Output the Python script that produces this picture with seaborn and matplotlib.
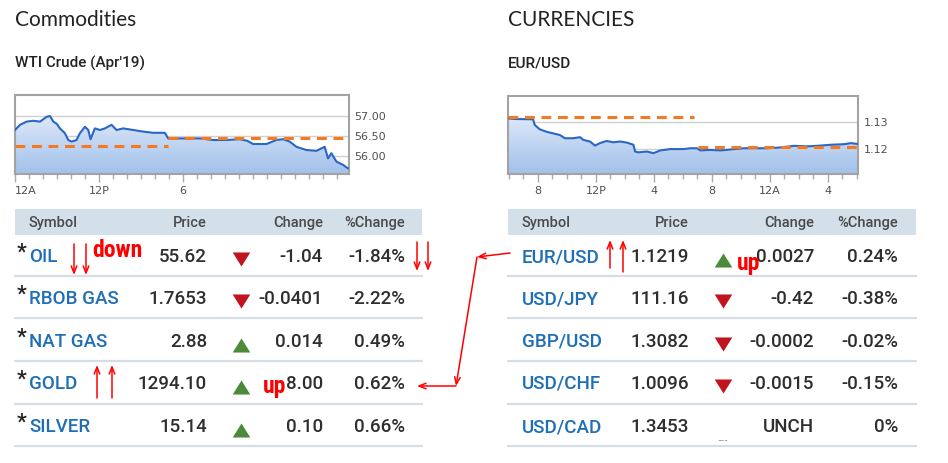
import matplotlib
matplotlib.use("Agg")
import numpy as np
import matplotlib.pyplot as plt
import matplotlib.colors as mcolors
from matplotlib.patches import Rectangle
from matplotlib.path import Path
import seaborn as sns

# --- datos mini grafico WTI (indice de hora, precio) ---
wti_x = [0.0, 0.36, 0.83, 1.31, 1.79, 2.26, 2.5, 2.74, 3.0, 3.21, 3.57, 3.81, 4.05, 4.40,
         4.64, 5.0, 5.24, 5.40, 5.71, 6.07, 6.43, 6.90, 7.26, 7.74, 8.45, 9.17, 9.88, 10.71,
         10.95, 11.79, 13.21, 14.17, 15.12, 16.07, 16.6, 17.02, 17.98, 18.69, 19.17, 19.64,
         20.12, 20.83, 21.55, 22.14, 22.38, 22.62, 22.98, 23.45, 23.81]
wti_y = [56.65, 56.78, 56.86, 56.88, 56.86, 56.98, 57.00, 56.86, 56.80, 56.69, 56.57, 56.40,
         56.36, 56.40, 56.57, 56.73, 56.65, 56.42, 56.69, 56.65, 56.69, 56.78, 56.65, 56.69,
         56.65, 56.61, 56.58, 56.58, 56.44, 56.44, 56.44, 56.40, 56.40, 56.42, 56.38, 56.30,
         56.30, 56.40, 56.42, 56.36, 56.23, 56.15, 56.13, 56.23, 55.94, 56.07, 55.86, 55.78,
         55.69]
wti_prev = [(0.0, 10.95), (56.26, 56.26)]
wti_open = [(10.95, 23.88), (56.45, 56.45)]
wti_ticks = [57.00, 56.50, 56.00]
wti_xlabels = {0: "12A", 6: "12P", 12: "6"}

# --- datos mini grafico EUR/USD ---
eur_x = [-0.07, 0.51, 1.66, 1.78, 2.12, 2.59, 3.05, 3.51, 3.86, 4.43, 4.90, 5.13, 5.59, 5.94,
         6.28, 6.74, 7.21, 7.67, 8.13, 8.59, 8.71, 8.94, 9.52, 9.98, 10.44, 11.13, 12.06,
         12.52, 12.98, 13.21, 13.90, 14.60, 15.06, 15.52, 16.21, 17.14, 17.83, 18.75, 19.68,
         20.60, 21.52, 22.22, 23.14, 23.60, 24.06]
eur_y = [1.1312, 1.1310, 1.1309, 1.1288, 1.1272, 1.1263, 1.1257, 1.1251, 1.1239, 1.1239,
         1.1243, 1.1233, 1.1227, 1.1212, 1.1221, 1.1229, 1.1224, 1.1227, 1.1223, 1.1215,
         1.1190, 1.1187, 1.1190, 1.1184, 1.1194, 1.1199, 1.1199, 1.1202, 1.1202, 1.1194,
         1.1196, 1.1194, 1.1196, 1.1199, 1.1202, 1.1202, 1.1202, 1.1205, 1.1211, 1.1209,
         1.1212, 1.1215, 1.1217, 1.1221, 1.1218]
eur_prev = [(-0.07, 12.75), (1.1318, 1.1318)]
eur_open = [(13.03, 24.1), (1.1205, 1.1205)]
eur_ticks = [1.13, 1.12]
eur_xlabels = {2: "8", 6: "12P", 10: "4", 14: "8", 18: "12A", 22: "4"}

# --- tablas ---
com_symbols = ["OIL", "RBOB GAS", "NAT GAS", "GOLD", "SILVER"]
com_prices = ["55.62", "1.7653", "2.88", "1294.10", "15.14"]
com_changes = ["-1.04", "-0.0401", "0.014", "8.00", "0.10"]
com_pcts = ["-1.84%", "-2.22%", "0.49%", "0.62%", "0.66%"]
com_dirs = ["down", "down", "up", "up", "up"]

fx_symbols = ["EUR/USD", "USD/JPY", "GBP/USD", "USD/CHF", "USD/CAD"]
fx_prices = ["1.1219", "111.16", "1.3082", "1.0096", "1.3453"]
fx_changes = ["0.0027", "-0.42", "-0.0002", "-0.0015", "UNCH"]
fx_pcts = ["0.24%", "-0.38%", "-0.02%", "-0.15%", "0%"]
fx_dirs = ["up", "down", "down", "down", "none"]

W, H = 948, 463
sns.set_style("white")
plt.rcParams["font.family"] = ["Lato", "DejaVu Sans"]
TAB = ["Roboto", "DejaVu Sans"]

fig = plt.figure(figsize=(W / 100, H / 100), dpi=100)
fig.patch.set_facecolor("white")

ov = fig.add_axes([0, 0, 1, 1])
ov.set_xlim(0, W)
ov.set_ylim(H, 0)
ov.axis("off")

BLUE_LINE = "#2a66c6"
ORANGE = "#f57a1f"
grad_cmap = mcolors.LinearSegmentedColormap.from_list("g", ["#f2f6fd", "#a2c1eb"])


def mini_chart(px, x, y, prev, opn, ylim, yticks, fmt, xlim, xlabels):
    l, t, r, b = px
    ax = fig.add_axes([l / W, 1 - b / H, (r - l) / W, (b - t) / H])
    ax.set_facecolor("white")
    for v in yticks:
        ax.axhline(v, color="#cfcfcf", lw=1, zorder=0.5)
    poly = ax.fill_between(x, y, ylim[0], color="none", lw=0)
    grad = np.linspace(0, 1, 256).reshape(-1, 1)
    im = ax.imshow(grad, cmap=grad_cmap, aspect="auto",
                   extent=[xlim[0], xlim[1], ylim[0], ylim[1]], zorder=1)
    im.set_clip_path(poly.get_paths()[0], transform=ax.transData)
    sns.lineplot(x=x, y=y, ax=ax, color=BLUE_LINE, lw=1.5, sort=False, zorder=3)
    for seg in (prev, opn):
        sns.lineplot(x=list(seg[0]), y=list(seg[1]), ax=ax, color=ORANGE, lw=2.2,
                     linestyle=(0, (3.2, 2.2)), zorder=4)
    ax.set_xlim(*xlim)
    ax.set_ylim(*ylim)
    ax.yaxis.tick_right()
    ax.set_yticks(yticks)
    ax.set_yticklabels([fmt.format(v) for v in yticks])
    ax.tick_params(axis="y", length=0, pad=4, labelsize=8, labelcolor="#505050")
    ax.set_xticks(list(xlabels.keys()))
    ax.set_xticklabels(list(xlabels.values()), fontfamily="DejaVu Sans")
    ax.set_xticks(range(int(np.ceil(xlim[0])), int(xlim[1]) + 1), minor=True)
    ax.tick_params(axis="x", which="major", length=6, width=1, color="#aaaaaa",
                   pad=3, labelsize=8, labelcolor="#505050", bottom=True)
    ax.tick_params(axis="x", which="minor", length=3.5, width=1, color="#aaaaaa", bottom=True)
    for lab in ax.get_yticklabels():
        lab.set_fontfamily("DejaVu Sans")
    for s in ax.spines.values():
        s.set_color("#a3a3a3")
        s.set_linewidth(1.5)
    ax.set_xlabel("")
    ax.set_ylabel("")
    return ax


ax1 = mini_chart((15, 95, 349, 174), wti_x, wti_y, wti_prev, wti_open,
                 (55.55, 57.525), wti_ticks, "{:.2f}", (0, 23.88), wti_xlabels)
ax1.get_xticklabels()[0].set_horizontalalignment("left")
ax2 = mini_chart((508, 96, 858, 174), eur_x, eur_y, eur_prev, eur_open,
                 (1.1107, 1.1395), eur_ticks, "{:.2f}", (-0.07, 24.1), eur_xlabels)

# titulos
for x0, t1, t2 in [(15, "Commodities", "WTI Crude (Apr'19)"), (508, "CURRENCIES", "EUR/USD")]:
    ov.text(x0, 26, t1, fontsize=15, color="#222222", va="baseline", ha="left")
    ov.text(x0, 68, t2, fontsize=11, color="#222222", va="baseline", ha="left",
            fontweight=500, family=TAB)

row_c = [256, 298, 341, 383, 426]
row_sep = [276, 318, 361, 404, 446]
tri_down = Path([(-1, 0.8), (1, 0.8), (0, -0.8), (-1, 0.8)])
tri_up = Path([(-1, -0.8), (1, -0.8), (0, 0.8), (-1, -0.8)])


def draw_table(x0, x1, cols, symbols, prices, changes, pcts, dirs, star):
    sym_x, price_r, tri_x, chg_r, pct_r = cols
    ov.add_patch(Rectangle((x0, 209), x1 - x0, 26, color="#d3dfe9", lw=0))
    hk = dict(fontsize=10.5, color="#4a4a4a", fontweight=500, va="baseline", family=TAB)
    ov.text(sym_x, 227, "Symbol", ha="left", **hk)
    ov.text(price_r, 227, "Price", ha="right", **hk)
    ov.text(chg_r, 227, "Change", ha="right", **hk)
    ov.text(pct_r, 227, "%Change", ha="right", **hk)
    for yc in row_sep:
        ov.plot([x0, x1], [yc, yc], color="#d5dde5", lw=1.6)
    k = dict(fontsize=13.5, color="#2e2e2e", va="baseline", fontweight=500, family=TAB)
    ups_x, ups_y, dn_x, dn_y = [], [], [], []
    for i, yc in enumerate(row_c):
        base = yc + 6
        if star:
            ov.text(x0 + 2, base - 3, "*", ha="left", fontsize=16, color="#222222",
                    va="baseline", fontweight=500, family=TAB)
        ov.text(sym_x, base, symbols[i], ha="left", fontsize=13.5, color="#1f6fb6",
                va="baseline", fontweight=500, family=TAB)
        ov.text(price_r, base, prices[i], ha="right", **k)
        ov.text(chg_r, base, changes[i], ha="right", **k)
        ov.text(pct_r, base, pcts[i], ha="right", **k)
        if dirs[i] == "up":
            ups_x.append(tri_x)
            ups_y.append(yc + 4)
        elif dirs[i] == "down":
            dn_x.append(tri_x)
            dn_y.append(yc + 3)
    if ups_x:
        sns.scatterplot(x=ups_x, y=ups_y, ax=ov, marker=tri_up, s=160, color="#4a8a3a",
                        linewidth=0)
    if dn_x:
        sns.scatterplot(x=dn_x, y=dn_y, ax=ov, marker=tri_down, s=160, color="#c0141f",
                        linewidth=0)


draw_table(15, 422, (29, 207, 241, 323, 405), com_symbols, com_prices, com_changes,
           com_pcts, com_dirs, True)
draw_table(508, 916, (522, 689, 723, 814, 898), fx_symbols, fx_prices, fx_changes,
           fx_pcts, fx_dirs, False)
ov.text(723, 443, "---", ha="center", va="baseline", fontsize=7, color="#888888")

# anotaciones en rojo
RED = "#ff0000"
arr = dict(arrowstyle="->,head_length=0.5,head_width=0.2", color=RED, lw=1.1,
           shrinkA=0, shrinkB=0)
for (xa, ya, xb, yb) in [(74, 244, 74, 275), (86, 244, 86, 275),
                         (417, 242, 417, 271), (428, 242, 428, 271),
                         (97, 398, 97, 365), (112, 398, 112, 365),
                         (610, 268, 610, 240), (623, 272, 623, 240),
                         (510, 253, 477, 257), (477, 257, 456, 386),
                         (456, 386, 417, 386)]:
    ov.annotate("", xy=(xb, yb), xytext=(xa, ya), arrowprops=arr)
rk = dict(color=RED, fontsize=17, fontweight=700, family=["Roboto Condensed", "DejaVu Sans"],
          va="baseline", ha="left", zorder=10)
ov.text(92, 257, "down", **rk)
ov.text(263, 393, "up", **rk)
ov.text(737, 270, "up", **rk)

ov.set_xlim(0, W)
ov.set_ylim(H, 0)
fig.savefig("out.png", dpi=100, facecolor="white")
